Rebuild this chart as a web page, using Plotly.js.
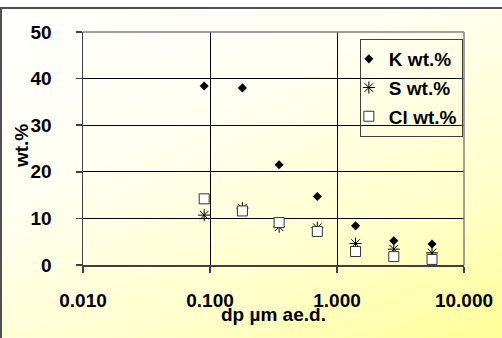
<!DOCTYPE html>
<html>
<head>
<meta charset="utf-8">
<script src="https://cdn.plot.ly/plotly-3.0.1.min.js"></script>
<style>
html,body{margin:0;padding:0;width:502px;height:338px;overflow:hidden;background:#fff;}
#frame{position:absolute;left:0;top:7px;width:510px;height:340px;box-sizing:border-box;border:2px solid #505050;
 background:linear-gradient(155deg,#ffffff 0%,#fffff2 35%,#ffffc8 72%,#ffff96 100%);}
#chart{position:absolute;left:0;top:0;width:502px;height:338px;}
.legendtext{font-weight:bold !important;}
</style>
</head>
<body>
<div id="frame"></div>
<div id="chart"></div>
<script>
const dp = [0.09, 0.18, 0.35, 0.7, 1.4, 2.8, 5.6];
const kWt = [38.4, 38.0, 21.5, 14.7, 8.4, 5.2, 4.5];
const sWt = [10.7, 12.2, 8.2, 8.0, 4.6, 3.4, 2.6];
const clWt = [14.2, 11.6, 9.1, 7.2, 2.9, 1.8, 1.2];
const xTickVals = [0.01, 0.1, 1, 10];
const xTickText = ['0.010', '0.100', '1.000', '10.000'];
const seriesNames = ['K wt.%', 'S wt.%', 'Cl wt.%'];
const xTitle = 'dp µm ae.d.';
const yTitle = 'wt.%';

const fam = 'Liberation Sans';
const bfont = {family: fam, size: 19, color: '#000', weight: 700};

const traces = [
  {x: dp, y: sWt, name: seriesNames[1], type: 'scatter', mode: 'markers', legendrank: 2, legendgroup: 'b',
   marker: {symbol: 'asterisk-open', size: 10, color: '#000', line: {color: '#000', width: 1}}},
  {x: dp, y: clWt, name: seriesNames[2], type: 'scatter', mode: 'markers', legendrank: 3, legendgroup: 'c',
   marker: {symbol: 'square', size: 10, color: '#fff', line: {color: '#333', width: 1}}},
  {x: dp, y: kWt, name: seriesNames[0], type: 'scatter', mode: 'markers', legendrank: 1, legendgroup: 'a',
   marker: {symbol: 'diamond', size: 7, color: '#000'}}
];

const layout = {
  width: 502, height: 338,
  margin: {l: 83, r: 38, t: 32, b: 73},
  paper_bgcolor: 'rgba(0,0,0,0)', plot_bgcolor: 'rgba(0,0,0,0)',
  font: {family: fam, size: 19, color: '#000'},
  showlegend: true,
  legend: {x: 0.997, xanchor: 'right', y: 0.97, yanchor: 'top', bgcolor: 'rgba(0,0,0,0)',
           bordercolor: '#404040', borderwidth: 1, tracegroupgap: 1, indentation: -12,
           font: bfont},
  xaxis: {type: 'log', range: [-2, 1], tickvals: xTickVals, ticktext: xTickText,
          showgrid: true, gridcolor: '#000', gridwidth: 1,
          ticks: 'outside', ticklen: 6, tickcolor: '#404040', tickwidth: 1.5,
          showline: true, linecolor: '#404040', linewidth: 1.5, zeroline: false,
          ticklabelstandoff: 12, tickfont: bfont},
  yaxis: {range: [0, 50], dtick: 10, showgrid: true, gridcolor: '#000', gridwidth: 1,
          ticks: 'outside', ticklen: 6, tickcolor: '#404040', tickwidth: 1.5,
          showline: true, linecolor: '#404040', linewidth: 1.5, zeroline: false,
          ticklabelstandoff: 20, tickfont: bfont},
  annotations: [
    {text: xTitle, xref: 'paper', yref: 'paper', x: 0.5, y: -0.213, xanchor: 'center', yanchor: 'middle',
     showarrow: false, font: bfont},
    {text: yTitle, xref: 'paper', yref: 'paper', x: -0.163, y: 0.51, xanchor: 'center', yanchor: 'middle',
     textangle: -90, showarrow: false, font: bfont}
  ],
  shapes: [
    {type: 'line', xref: 'paper', yref: 'paper', x0: 0, x1: 1, y0: 1, y1: 1, line: {color: '#808080', width: 1.5}},
    {type: 'line', xref: 'paper', yref: 'paper', x0: 1, x1: 1, y0: 0, y1: 1, line: {color: '#808080', width: 1.5}}
  ]
};

Plotly.newPlot('chart', traces, layout, {displayModeBar: false, staticPlot: true});
</script>
</body>
</html>
